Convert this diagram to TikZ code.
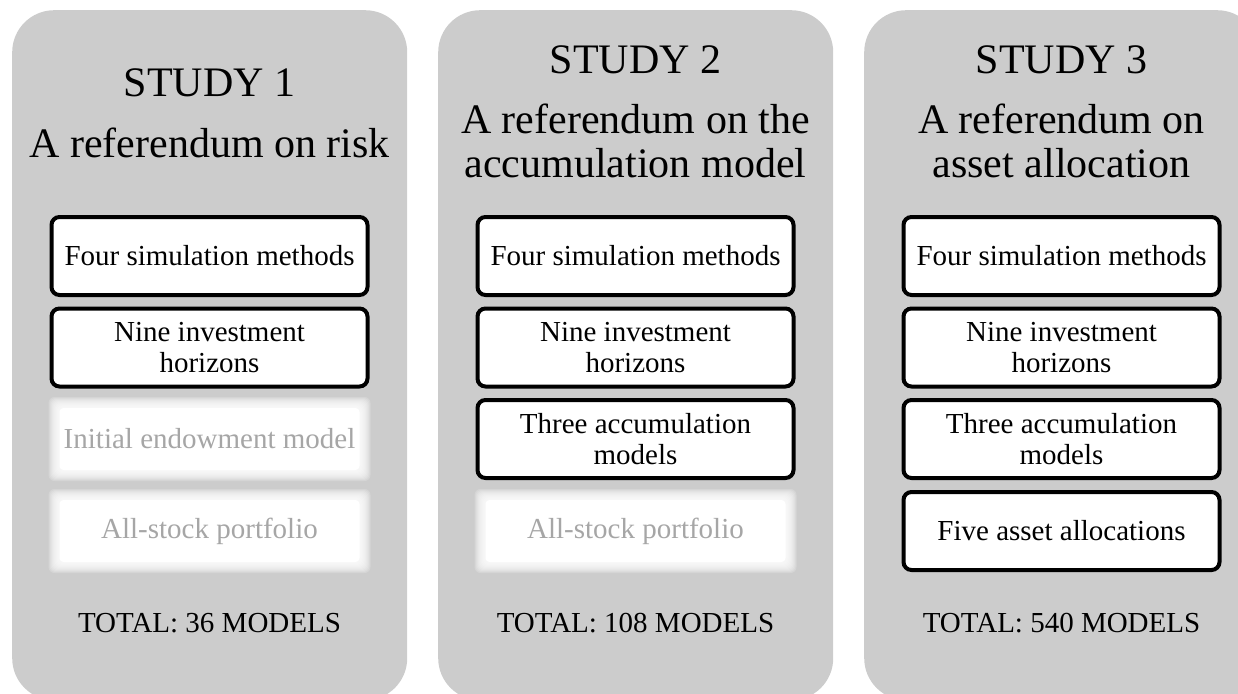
\documentclass[tikz,border=0pt]{standalone}
\usepackage{fontspec}
\setmainfont{Liberation Serif}
\definecolor{panelgray}{RGB}{204,204,204}
\definecolor{fadedtext}{RGB}{166,166,166}
% soft white glow behind an item that is not part of a study
\newcommand\glowrect[2]{%
  \foreach \k in {-1,...,9}{%
    \fill[white, opacity=0.18, rounded corners=6pt]
      ({#1-160+\k},{#2-41+\k}) rectangle ({#1+160-\k},{#2+41-\k});
  }%
  \fill[white, rounded corners=4pt] ({#1-150},{#2-31}) rectangle ({#1+150},{#2+31});
}
\begin{document}
\begin{tikzpicture}[x=1pt,y=-1pt,
  panel/.style={fill=panelgray, rounded corners=42pt, minimum width=395pt,
    minimum height=690pt, anchor=north west, inner sep=0pt},
  title/.style={font=\fontsize{42}{44}\selectfont, anchor=base, align=center, inner sep=0pt},
  itembox/.style={draw, fill=white, line width=4pt, rounded corners=8pt,
    minimum width=316pt, minimum height=78pt, inner sep=0pt, align=center,
    font=\fontsize{29}{31}\selectfont},
  fadeditem/.style={text=fadedtext, minimum width=316pt, minimum height=78pt,
    inner sep=0pt, align=center, font=\fontsize{29}{31}\selectfont},
  total/.style={font=\fontsize{29}{31}\selectfont, anchor=base, inner sep=0pt}]
\useasboundingbox (0,0) rectangle (1238,693);
\clip (0,0) rectangle (1238,693);

% study panels
\node[panel] (panelA) at (12,10) {};
\node[panel] (panelB) at (438,10) {};
\node[panel] (panelC) at (864,10) {};

% study 1
\node[title] (studyA) at (209.5,96) {STUDY 1};
\node[title] (topicA) at (209.5,157) {A referendum on risk};
\node[itembox] (simA) at (209.5,256) {Four simulation methods};
\node[itembox] (horA) at (209.5,347.5) {Nine investment\\horizons};
\glowrect{209.5}{439}
\node[fadeditem] (accA) at (209.5,439) {Initial endowment model};
\glowrect{209.5}{531}
\node[fadeditem] (allocA) at (209.5,531) {All-stock portfolio};
\node[total] (totalA) at (209.5,632) {TOTAL: 36 MODELS};

% study 2 (the base of a two-line title is its last line)
\node[title] (studyB) at (635.5,73) {STUDY 2};
\node[title] (topicB) at (635.5,177) {A referendum on the\\accumulation model};
\node[itembox] (simB) at (635.5,256) {Four simulation methods};
\node[itembox] (horB) at (635.5,347.5) {Nine investment\\horizons};
\node[itembox] (accB) at (635.5,439) {Three accumulation\\models};
\glowrect{635.5}{531}
\node[fadeditem] (allocB) at (635.5,531) {All-stock portfolio};
\node[total] (totalB) at (635.5,632) {TOTAL: 108 MODELS};

% study 3
\node[title] (studyC) at (1061.5,73) {STUDY 3};
\node[title] (topicC) at (1061.5,177) {A referendum on\\asset allocation};
\node[itembox] (simC) at (1061.5,256) {Four simulation methods};
\node[itembox] (horC) at (1061.5,347.5) {Nine investment\\horizons};
\node[itembox] (accC) at (1061.5,439) {Three accumulation\\models};
\node[itembox] (allocC) at (1061.5,531) {Five asset allocations};
\node[total] (totalC) at (1061.5,632) {TOTAL: 540 MODELS};
\end{tikzpicture}
\end{document}
